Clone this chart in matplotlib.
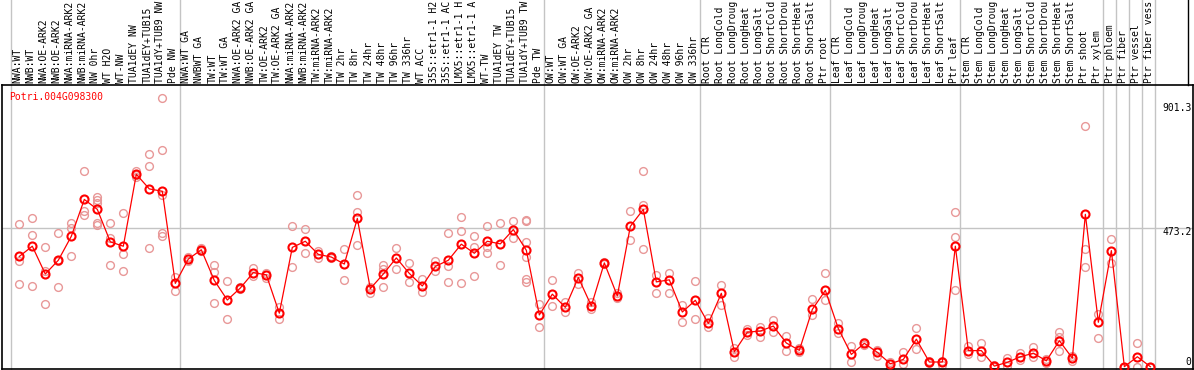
import matplotlib
matplotlib.use('Agg')
import matplotlib.pyplot as plt
from matplotlib.lines import Line2D

# sample labels, one column each (as shown, cut to 14 characters)
labels = [
    'NWA:WT', 'NWB:WT', 'NWA:OE-ARK2', 'NWB:OE-ARK2', 'NWA:miRNA-ARK2', 'NWB:miRNA-ARK2',
    'NW 0hr', 'WT H2O', 'WT-NW', 'TUA1dEY NW', 'TUA1dEY+TUB15', 'TUA1dY+TUB9 NW', 'Pde NW',
    'NWA:WT GA', 'NWBWT GA', 'TW:WT', 'TW:WT GA', 'NWA:OE-ARK2 GA', 'NWB:OE-ARK2 GA',
    'TW:OE-ARK2', 'TW:OE-ARK2 GA', 'NWA:miRNA-ARK2', 'NWB:miRNA-ARK2', 'TW:miRNA-ARK2',
    'TW:miRNA-ARK2', 'TW 2hr', 'TW 8hr', 'TW 24hr', 'TW 48hr', 'TW 96hr', 'TW 336hr',
    'WT ACC', '35S::etr1-1 H2', '35S::etr1-1 AC', 'LMX5::etr1-1 H', 'LMX5::etr1-1 A',
    'WT-TW', 'TUA1dEY TW', 'TUA1dEY+TUB15', 'TUA1dY+TUB9 TW', 'Pde TW',
    'OW:WT', 'OW:WT GA', 'OW:OE-ARK2', 'OW:OE-ARK2 GA', 'OW:miRNA-ARK2', 'OW:miRNA-ARK2',
    'OW 2hr', 'OW 8hr', 'OW 24hr', 'OW 48hr', 'OW 96hr', 'OW 336hr',
    'Root CTR', 'Root LongCold', 'Root LongDroug', 'Root LongHeat', 'Root LongSalt',
    'Root ShortCold', 'Root ShortDrou', 'Root ShortHeat', 'Root ShortSalt', 'Ptr root',
    'Leaf CTR', 'Leaf LongCold', 'Leaf LongDroug', 'Leaf LongHeat', 'Leaf LongSalt',
    'Leaf ShortCold', 'Leaf ShortDrou', 'Leaf ShortHeat', 'Leaf ShortSalt', 'Ptr leaf',
    'Stem CTR', 'Stem LongCold', 'Stem LongDroug', 'Stem LongHeat', 'Stem LongSalt',
    'Stem ShortCold', 'Stem ShortDrou', 'Stem ShortHeat', 'Stem ShortSalt', 'Ptr shoot',
    'Ptr xylem', 'Ptr phloem', 'Ptr fiber', 'Ptr vessel', 'Ptr fiber vess',
]

# mean expression per sample
means = [
    377, 412, 317, 364, 446, 572, 538, 427, 412, 658, 608, 600, 285,
    368, 400, 295, 228, 269, 322, 314, 183, 408, 429, 384, 375, 351, 507,
    267, 317, 372, 319, 276, 343, 364, 419, 388, 429, 420, 469, 398, 177,
    248, 203, 305, 208, 355, 242, 480, 538, 290, 297, 187, 227,
    148, 251, 51, 118, 122, 139, 81, 56, 196, 261,
    130, 42, 80, 49, 10, 25, 94, 16, 16, 412,
    55, 55, 2, 15, 34, 46, 20, 89, 29, 521,
    152, 397, 0, 34, 0,
]

# replicate values per sample
reps = [
    [487, 363, 282], [507, 450, 275], [408, 327, 214], [456, 363, 273], [493, 476, 377],
    [668, 533, 519], [582, 570, 559, 490, 485], [491, 439, 347], [525, 384, 327],
    [669, 656, 649], [726, 685, 405], [918, 740, 587, 456, 447], [308, 259],
    [360, 376], [406, 397], [348, 325, 217], [292, 162], [274, 266], [336, 309],
    [319, 305], [203, 162], [480, 340], [470, 388], [397, 372], [380, 371],
    [403, 297], [586, 530, 415], [274, 251], [347, 335, 273], [405, 334],
    [354, 289], [300, 254], [362, 327], [457, 344, 289], [511, 464, 285],
    [446, 408, 309], [480, 411, 388], [491, 347], [498, 441],
    [502, 498, 428, 374, 299, 289], [216, 135],
    [295, 208], [220, 187], [320, 282], [220, 197], [359, 350], [251, 234],
    [533, 432], [668, 553, 401], [313, 251], [319, 251], [210, 152], [293, 163],
    [165, 137], [279, 211], [63, 34], [128, 108], [137, 103], [160, 118],
    [106, 55], [63, 51], [230, 177], [319, 228],
    [148, 114], [71, 17], [86, 74], [57, 38], [17, 0], [51, 8], [131, 59],
    [20, 12], [20, 6], [529, 442, 262],
    [72, 42], [80, 34], [6, 0], [31, 4], [48, 23], [69, 34], [26, 12],
    [120, 100, 55], [38, 20], [822, 401, 340],
    [179, 97], [436, 356], [0, 0], [80, 0], [0, 0],
]

# first column of each block (gray separators drawn before them)
block_starts = [0, 13, 41, 53, 63, 73, 84, 85, 86, 87, 88]
y_ticks = [0, 473.2, 901.3]
gene = 'Potri.004G098300'

W, H = 1194, 370
fig = plt.figure(figsize=(W / 100, H / 100), dpi=100)
ax = fig.add_axes([2 / W, 1 / H, 1191 / W, 284 / H])
ax.set_xlim(-1.331, 90.28)
ax.set_ylim(-7.9, 963.4)
ax.set_xticks([])
ax.set_yticks([])
for s in ax.spines.values():
    s.set_color('black')
    s.set_linewidth(1.2)

grey = '#c4c4c4'
ax.axhline(y_ticks[1], color=grey, lw=1, zorder=0)
for b in block_starts:
    ax.plot([b - 0.62, b - 0.62], [0, 1.3], transform=ax.get_xaxis_transform(),
            color=grey, lw=1, clip_on=False, zorder=0)

# replicates
for i, r in enumerate(reps):
    ax.plot([i] * len(r), r, 'o', mfc='none', mec='#e89898', ms=5.6, mew=1.0, zorder=2)

# means
ax.plot(range(len(means)), means, '-', color='red', lw=0.9, marker='o',
        mfc='none', mec='red', ms=5.8, mew=1.5, zorder=3)

mono = 'DejaVu Sans Mono'
for i, lab in enumerate(labels):
    ax.text(i - 0.14, 1.007, lab, rotation=90, ha='center', va='bottom',
            transform=ax.get_xaxis_transform(), fontsize=7, family=mono, clip_on=False)

offsets = [3.5, -3, -3.2]
for v, off in zip(y_ticks, offsets):
    txt = '0' if v == 0 else f'{v:.1f}'
    ax.annotate(txt, xy=(1, v), xycoords=('axes fraction', 'data'),
                xytext=(-1, off), textcoords='offset points',
                ha='right', va='center', fontsize=7, family=mono)

fig.text(9.3 / W, 1 - 97.5 / H, gene, color='red', fontsize=7, family=mono,
         ha='left', va='center')

# right edge of label strip
fig.add_artist(Line2D([1188 / W, 1188 / W], [285 / H, 1], color='black', lw=1))

fig.savefig('out.png', dpi=100)
